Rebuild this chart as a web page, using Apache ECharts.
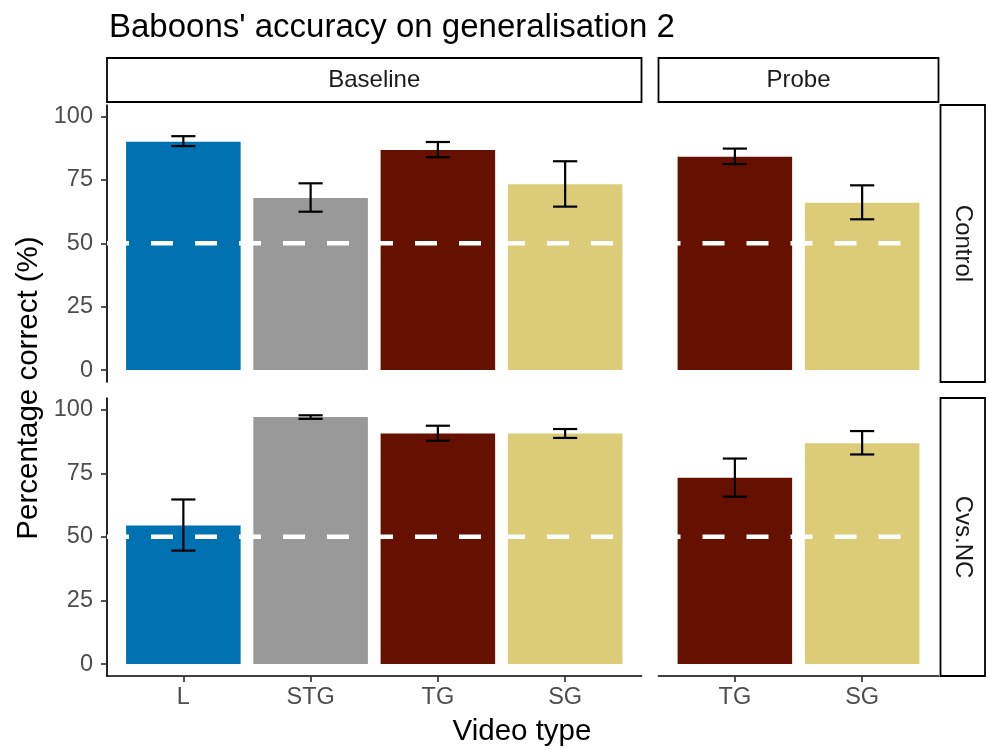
<!DOCTYPE html>
<html><head><meta charset="utf-8">
<script src="https://cdn.jsdelivr.net/npm/echarts@6/dist/echarts.min.js"></script>
<style>html,body{margin:0;padding:0;background:#fff}#c{width:988px;height:749px}</style>
</head><body><div id="c"></div>
<script>
// ---- data ----
const baselineCats = ['L', 'STG', 'TG', 'SG'];
const probeCats = ['TG', 'SG'];
const rowNames = ['Control', 'Cvs.NC'];
const colNames = ['Baseline', 'Probe'];
const controlBaselineMean = [90.1, 67.9, 86.8, 73.3];
const controlBaselineLow  = [88.4, 62.5, 84.0, 64.5];
const controlBaselineHigh = [92.3, 73.7, 90.0, 82.4];
const controlProbeMean = [84.2, 66.0];
const controlProbeLow  = [81.3, 59.5];
const controlProbeHigh = [87.4, 72.9];
const cvsncBaselineMean = [54.5, 97.1, 90.6, 90.6];
const cvsncBaselineLow  = [44.6, 96.4, 87.8, 88.9];
const cvsncBaselineHigh = [64.7, 97.8, 93.7, 92.4];
const cvsncProbeMean = [73.2, 86.8];
const cvsncProbeLow  = [65.8, 82.4];
const cvsncProbeHigh = [80.8, 91.6];
const yTicks = [0, 25, 50, 75, 100];
const chanceLevel = 50;
const typeColors = { L: '#0072B2', STG: '#999999', TG: '#661100', SG: '#DDCC77' };

// ---- layout ----
const FONT = 'Liberation Sans, Arial, Helvetica, sans-serif';
const colX = [{ left: 107, width: 534.5 }, { left: 658.5, width: 280 }];
const rowY = [{ top: 105, height: 277 }, { top: 398, height: 278 }];

const panels = [
  { r: 0, c: 0, cats: baselineCats, mean: controlBaselineMean, low: controlBaselineLow, high: controlBaselineHigh },
  { r: 0, c: 1, cats: probeCats, mean: controlProbeMean, low: controlProbeLow, high: controlProbeHigh },
  { r: 1, c: 0, cats: baselineCats, mean: cvsncBaselineMean, low: cvsncBaselineLow, high: cvsncBaselineHigh },
  { r: 1, c: 1, cats: probeCats, mean: cvsncProbeMean, low: cvsncProbeLow, high: cvsncProbeHigh }
];

const grids = [], xAxes = [], yAxes = [], series = [];
panels.forEach((p, i) => {
  const showX = p.r === 1, showY = p.c === 0;
  const idx = p.cats.map((_, k) => k);
  grids.push({ left: colX[p.c].left, width: colX[p.c].width, top: rowY[p.r].top, height: rowY[p.r].height, outerBoundsMode: 'none', containLabel: false });
  xAxes.push({
    type: 'value', gridIndex: i, min: -0.6, max: p.cats.length - 1 + 0.6,
    splitLine: { show: false },
    axisLine: { show: showX, onZero: false, lineStyle: { color: '#000', width: 1.7 } },
    axisTick: { show: showX, customValues: idx, length: 6, lineStyle: { color: '#333', width: 1.7 } },
    axisLabel: { show: showX, customValues: idx, formatter: v => p.cats[Math.round(v)], color: '#4D4D4D', fontSize: 23.5, fontFamily: FONT, margin: 10 }
  });
  yAxes.push({
    type: 'value', gridIndex: i, min: -4.7, max: 104.6,
    splitLine: { show: false },
    axisLine: { show: showY, onZero: false, lineStyle: { color: '#000', width: 1.7 } },
    axisTick: { show: showY, customValues: yTicks, length: 6, lineStyle: { color: '#333', width: 1.7 } },
    axisLabel: { show: showY, customValues: yTicks, color: '#4D4D4D', fontSize: 23.5, fontFamily: FONT, margin: 14 }
  });
  series.push({
    type: 'custom', xAxisIndex: i, yAxisIndex: i, z: 2, silent: true,
    data: p.mean.map((m, k) => [k, m]),
    renderItem: (params, api) => {
      const x = api.value(0), y = api.value(1);
      const p0 = api.coord([x, 0]), p1 = api.coord([x, y]);
      const w = api.size([0.9, 0])[0];
      return { type: 'rect', shape: { x: p0[0] - w / 2, y: p1[1], width: w, height: p0[1] - p1[1] },
        style: { fill: typeColors[p.cats[params.dataIndex]] } };
    }
  });
  series.push({
    type: 'line', xAxisIndex: i, yAxisIndex: i, z: 3, silent: true, symbol: 'none',
    data: [[-0.6, chanceLevel], [p.cats.length - 1 + 0.6, chanceLevel]],
    lineStyle: { color: '#ffffff', width: 4.5, type: [22, 22] }
  });
  series.push({
    type: 'custom', xAxisIndex: i, yAxisIndex: i, z: 4, silent: true,
    data: p.mean.map((m, k) => [k, p.low[k], p.high[k]]),
    renderItem: (params, api) => {
      const x = api.value(0);
      const lo = api.coord([x, api.value(1)]), hi = api.coord([x, api.value(2)]);
      const hw = api.size([0.19, 0])[0] / 2;
      const st = { stroke: '#000', lineWidth: 2.2 };
      return { type: 'group', children: [
        { type: 'line', shape: { x1: lo[0], y1: lo[1], x2: hi[0], y2: hi[1] }, style: st },
        { type: 'line', shape: { x1: lo[0] - hw, y1: lo[1], x2: lo[0] + hw, y2: lo[1] }, style: st },
        { type: 'line', shape: { x1: hi[0] - hw, y1: hi[1], x2: hi[0] + hw, y2: hi[1] }, style: st }
      ] };
    }
  });
});

const stripStyle = { fill: '#fff', stroke: '#000', lineWidth: 1.8 };
const stripText = { fill: '#1A1A1A', fontSize: 24, fontFamily: FONT, align: 'center', verticalAlign: 'middle' };
const graphic = [];
colNames.forEach((name, c) => {
  graphic.push({ type: 'rect', shape: { x: colX[c].left, y: 58, width: colX[c].width, height: 44 }, style: stripStyle });
  graphic.push({ type: 'text', x: colX[c].left + colX[c].width / 2, y: 80, style: Object.assign({ text: name }, stripText) });
});
rowNames.forEach((name, r) => {
  graphic.push({ type: 'rect', shape: { x: 940.5, y: rowY[r].top, width: 44.5, height: rowY[r].height }, style: stripStyle });
  graphic.push({ type: 'text', x: 962.5, y: rowY[r].top + rowY[r].height / 2, rotation: -Math.PI / 2, style: Object.assign({ text: name }, stripText) });
});
graphic.push({ type: 'text', x: 29, y: 388, rotation: Math.PI / 2,
  style: { text: 'Percentage correct (%)', fill: '#000', fontSize: 29.5, fontFamily: FONT, align: 'center', verticalAlign: 'middle' } });
graphic.push({ type: 'text', x: 522, y: 732,
  style: { text: 'Video type', fill: '#000', fontSize: 29.5, fontFamily: FONT, align: 'center', verticalAlign: 'middle' } });

const chart = echarts.init(document.getElementById('c'));
chart.setOption({
  backgroundColor: '#fff',
  animation: false,
  title: { text: "Baboons' accuracy on generalisation 2", left: 104, top: 6,
    textStyle: { fontSize: 33, fontWeight: 'normal', color: '#000', fontFamily: FONT } },
  grid: grids, xAxis: xAxes, yAxis: yAxes, series: series, graphic: graphic
});
</script></body></html>
